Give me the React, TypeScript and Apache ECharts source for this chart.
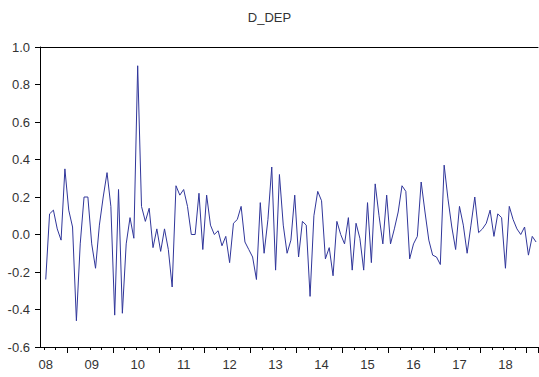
import React, { useEffect, useRef } from 'react';
import * as echarts from 'echarts';

const TITLE = 'D_DEP';
const START_YEAR = 2008;
const START_MONTH = 6;

// Monthly first differences, 2008M06 .. 2019M03 (first observation lost to differencing)
const D_DEP: (number | null)[] = [
  null, -0.24, 0.11, 0.13, 0.03, -0.03, 0.35, 0.13, 0.04, -0.46, -0.05, 0.2, 0.2, -0.05,
  -0.18, 0.05, 0.2, 0.33, 0.15, -0.43, 0.24, -0.42, -0.05, 0.09, -0.02, 0.9, 0.15, 0.07,
  0.14, -0.07, 0.03, -0.09, 0.03, -0.08, -0.28, 0.26, 0.21, 0.24, 0.15, 0.0, 0.0, 0.22,
  -0.08, 0.21, 0.05, 0.0, 0.02, -0.06, -0.01, -0.15, 0.06, 0.08, 0.15, -0.04, -0.08, -0.12,
  -0.24, 0.17, -0.1, 0.08, 0.36, -0.19, 0.32, 0.05, -0.1, -0.03, 0.21, -0.12, 0.07, 0.05,
  -0.33, 0.1, 0.23, 0.18, -0.13, -0.07, -0.22, 0.07, 0.0, -0.05, 0.09, -0.19, 0.06, -0.02,
  -0.19, 0.17, -0.15, 0.27, 0.1, -0.05, 0.21, -0.05, 0.03, 0.12, 0.26, 0.23, -0.13, -0.05,
  -0.01, 0.28, 0.12, -0.03, -0.11, -0.12, -0.16, 0.37, 0.19, 0.04, -0.08, 0.15, 0.05, -0.1,
  0.05, 0.2, 0.01, 0.03, 0.06, 0.13, -0.01, 0.11, 0.09, -0.18, 0.15, 0.08, 0.03, 0.0,
  0.04, -0.11, -0.01, -0.04,
];

const Y_MIN = -0.6;
const Y_MAX = 1.0;
const Y_STEP = 0.2;

const MAJOR_TICK_MONTHS = [1];
const MINOR_TICK_MONTHS = [4, 7, 10];
const LABEL_MONTH = 7;

const CATEGORIES: string[] = D_DEP.map((_, i) => {
  const t = START_MONTH - 1 + i;
  const y = START_YEAR + Math.floor(t / 12);
  const m = (t % 12) + 1;
  return `${y}M${String(m).padStart(2, '0')}`;
});

const monthOf = (c: string) => Number(c.slice(5));

const FONT = 'Liberation Sans, Arial, sans-serif';
const TEXT = '#333';

export default function App() {
  const ref = useRef<HTMLDivElement>(null);

  useEffect(() => {
    if (!ref.current) return;
    const chart = echarts.init(ref.current, null, { renderer: 'svg' });
    chart.setOption({
      animation: false,
      backgroundColor: '#fff',
      title: {
        text: TITLE,
        left: 'center',
        top: 6,
        textStyle: { fontFamily: FONT, fontSize: 13, fontWeight: 'normal', color: TEXT },
      },
      grid: { left: 40, right: 1, top: 47, bottom: 30, containLabel: false },
      xAxis: [
        {
          type: 'category',
          data: CATEGORIES,
          position: 'bottom',
          boundaryGap: true,
          axisLine: { show: true, onZero: false, lineStyle: { color: '#000', width: 1 } },
          axisTick: {
            show: true,
            length: 6,
            interval: (_i: number, v: string) => MAJOR_TICK_MONTHS.includes(monthOf(v)),
            lineStyle: { color: '#000', width: 1 },
          },
          axisLabel: {
            interval: (_i: number, v: string) => monthOf(v) === LABEL_MONTH,
            formatter: (v: string) => v.slice(2, 4),
            fontFamily: FONT,
            fontSize: 13,
            color: TEXT,
            margin: 11,
          },
          splitLine: { show: false },
        },
        {
          type: 'category',
          data: CATEGORIES,
          position: 'bottom',
          boundaryGap: true,
          axisLine: { show: false, onZero: false },
          axisTick: {
            show: true,
            length: 3,
            interval: (_i: number, v: string) => MINOR_TICK_MONTHS.includes(monthOf(v)),
            lineStyle: { color: '#000', width: 1 },
          },
          axisLabel: { show: false },
          splitLine: { show: false },
        },
        {
          type: 'category',
          data: CATEGORIES,
          position: 'top',
          boundaryGap: true,
          axisLine: { show: true, onZero: false, lineStyle: { color: '#000', width: 1 } },
          axisTick: { show: false },
          axisLabel: { show: false },
          splitLine: { show: false },
        },
      ],
      yAxis: {
        type: 'value',
        min: Y_MIN,
        max: Y_MAX,
        interval: Y_STEP,
        axisLine: { show: true, onZero: false, lineStyle: { color: '#000', width: 1 } },
        axisTick: { show: true, length: 5, lineStyle: { color: '#000' } },
        axisLabel: {
          formatter: (v: number) => v.toFixed(1),
          fontFamily: FONT,
          fontSize: 13,
          color: TEXT,
          margin: 10,
        },
        splitLine: { show: false },
      },
      series: [
        {
          type: 'line',
          name: TITLE,
          xAxisIndex: 0,
          data: D_DEP,
          showSymbol: false,
          symbol: 'none',
          lineStyle: { color: '#30369a', width: 1 },
          itemStyle: { color: '#30369a' },
        },
      ],
    });
    return () => chart.dispose();
  }, []);

  return (
    <div
      ref={ref}
      style={{ position: 'fixed', left: 0, top: 0, width: 539, height: 377, background: '#fff' }}
    />
  );
}
